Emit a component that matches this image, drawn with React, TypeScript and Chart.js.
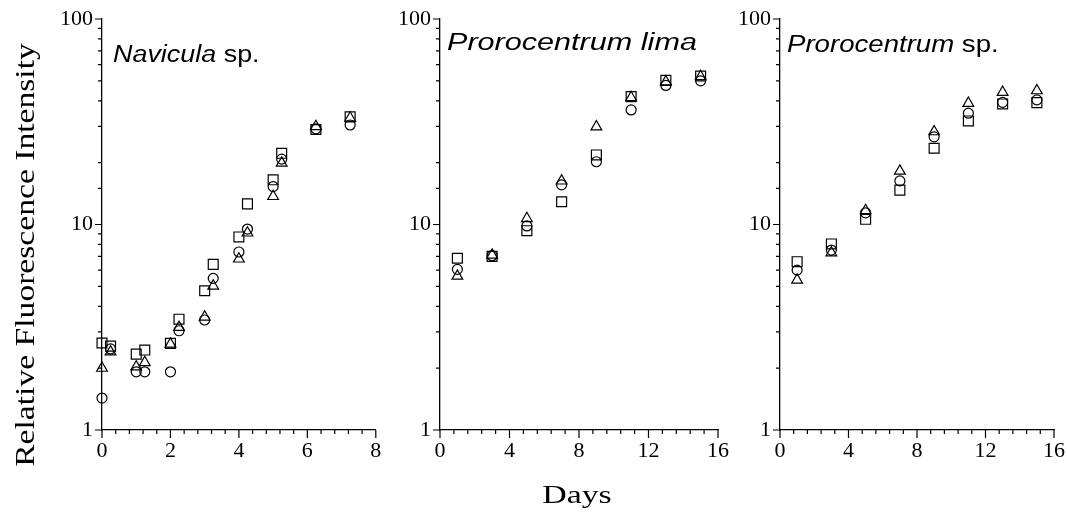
import React, { useEffect, useRef } from 'react';
import { Chart, registerables } from 'chart.js';

Chart.register(...registerables);

// ---------- data ----------
const yTickLabels = [1, 10, 100];

const navDays = [0, 0.25, 1, 1.25, 2, 2.25, 3, 3.25, 4, 4.25, 5, 5.25, 6.25, 7.25];
const navCircle = [1.43, 2.48, 1.92, 1.92, 1.92, 3.04, 3.43, 5.47, 7.35, 9.5, 15.3, 20.8, 29.2, 30.5];
const navSquare = [2.65, 2.56, 2.34, 2.45, 2.64, 3.46, 4.76, 6.4, 8.7, 12.6, 16.5, 22.2, 29.0, 33.4];
const navTriangle = [2.0, 2.4, 2.03, 2.13, 2.62, 3.16, 3.55, 5.02, 6.8, 9.1, 13.7, 19.9, 30.0, 33.0];

const limaDays = [1, 3, 5, 7, 9, 11, 13, 15];
const limaCircle = [6.05, 7.05, 9.84, 15.6, 20.2, 36.1, 47.5, 50.0];
const limaSquare = [6.85, 7.0, 9.33, 12.9, 21.8, 41.9, 50.3, 52.8];
const limaTriangle = [5.61, 7.1, 10.7, 16.3, 29.9, 41.5, 49.5, 52.5];

const spDays = [1, 3, 5, 7, 9, 11, 13, 15];
const spCircle = [6.0, 7.51, 11.4, 16.3, 26.7, 34.8, 39.3, 40.4];
const spSquare = [6.59, 8.04, 10.6, 14.7, 23.5, 31.9, 38.6, 39.2];
const spTriangle = [5.37, 7.29, 11.7, 18.2, 28.3, 38.9, 44.0, 44.8];

const yAxisTitle = 'Relative Fluorescence Intensity';
const xAxisTitle = 'Days';

// ---------- drawing helpers ----------
const SERIF = '"Liberation Serif", "DejaVu Serif", serif';
const SANS = '"Liberation Sans", Arial, sans-serif';

const nearMultiple = (v: number, m: number) => Math.abs(v / m - Math.round(v / m)) < 1e-6;

const panelDeco = {
  id: 'panelDeco',
  afterDraw(chart: any, _args: any, opts: any) {
    const { ctx, chartArea: ca } = chart;
    const xs = chart.scales.x;
    const ys = chart.scales.y;
    ctx.save();
    ctx.strokeStyle = '#000';
    ctx.lineWidth = 1.2;
    ctx.beginPath();
    for (const t of xs.ticks) {
      const px = xs.getPixelForValue(t.value);
      const len = nearMultiple(t.value, opts.xMajor) ? 8 : 4;
      ctx.moveTo(px, ca.bottom);
      ctx.lineTo(px, ca.bottom + len);
    }
    for (const t of ys.ticks) {
      const py = ys.getPixelForValue(t.value);
      const major = yTickLabels.some((v) => Math.abs(v - t.value) < 1e-9);
      const len = major ? 7 : 4;
      ctx.moveTo(ca.left - len, py);
      ctx.lineTo(ca.left, py);
    }
    ctx.stroke();

    // panel title (mixed italic / upright)
    ctx.fillStyle = '#000';
    ctx.textBaseline = 'alphabetic';
    ctx.textAlign = 'left';
    ctx.save();
    ctx.translate(ca.left + opts.titleDx, opts.titleY);
    ctx.scale(opts.titleScale || 1.2, 1);
    ctx.font = `italic 23px ${SANS}`;
    ctx.fillText(opts.italic, 0, 0);
    const w = ctx.measureText(opts.italic).width;
    if (opts.normal) {
      ctx.font = `23px ${SANS}`;
      ctx.fillText(opts.normal, w, 0);
    }
    ctx.restore();

    if (opts.yTitle) {
      ctx.save();
      ctx.translate(opts.yTitleX, opts.yTitleY);
      ctx.rotate(-Math.PI / 2);
      ctx.scale(1.2, 1);
      ctx.font = `28px ${SERIF}`;
      ctx.textAlign = 'center';
      ctx.textBaseline = 'middle';
      ctx.fillText(opts.yTitle, 0, 0);
      ctx.restore();
    }
    if (opts.xTitle) {
      ctx.save();
      ctx.translate(opts.xTitleX, opts.xTitleY);
      ctx.scale(1.3, 1);
      ctx.font = `26px ${SERIF}`;
      ctx.textAlign = 'center';
      ctx.textBaseline = 'alphabetic';
      ctx.fillText(opts.xTitle, 0, 0);
      ctx.restore();
    }
    ctx.restore();
  },
};

type Panel = {
  left: number;
  width: number;
  yAxisWidth: number;
  days: number[];
  circle: number[];
  square: number[];
  triangle: number[];
  xMax: number;
  xStep: number;
  xMajor: number;
  deco: any;
};

const CANVAS_H = 516;
const AREA_TOP = 19;
const AREA_BOTTOM = 430;

function series(days: number[], vals: number[]) {
  return days.map((d, i) => ({ x: d, y: vals[i] }));
}

function buildChart(canvas: HTMLCanvasElement, p: Panel) {
  const common = {
    showLine: false,
    borderColor: '#000',
    backgroundColor: 'rgba(0,0,0,0)',
    borderWidth: 1.2,
    clip: false as any,
  };
  return new Chart(canvas, {
    type: 'scatter',
    data: {
      datasets: [
        { ...common, label: 'circle', data: series(p.days, p.circle), pointStyle: 'circle', pointRadius: 5 },
        { ...common, label: 'square', data: series(p.days, p.square), pointStyle: 'rect', pointRadius: 7 },
        { ...common, label: 'triangle', data: series(p.days, p.triangle), pointStyle: 'triangle', pointRadius: 6.2 },
      ],
    },
    options: {
      animation: false,
      responsive: false,
      devicePixelRatio: 1,
      layout: { padding: { top: AREA_TOP, bottom: 0, left: 0, right: 0 } },
      plugins: {
        legend: { display: false },
        tooltip: { enabled: false },
        panelDeco: { xMajor: p.xMajor, ...p.deco },
      } as any,
      scales: {
        x: {
          type: 'linear',
          min: 0,
          max: p.xMax,
          grid: { display: false, drawTicks: true, tickLength: 8 },
          border: { display: true, color: '#000', width: 1.3 },
          ticks: {
            stepSize: p.xStep,
            autoSkip: false,
            maxRotation: 0,
            padding: 0,
            color: '#000',
            font: { family: SERIF, size: 22 },
            callback: (v: any) => (nearMultiple(Number(v), p.xMajor) ? String(Math.round(Number(v))) : ''),
          },
          afterFit: (s: any) => {
            s.height = CANVAS_H - AREA_BOTTOM;
          },
        },
        y: {
          type: 'logarithmic',
          min: 1,
          max: 100,
          grid: { display: false, drawTicks: true, tickLength: 7 },
          border: { display: true, color: '#000', width: 1.3 },
          ticks: {
            autoSkip: false,
            padding: 2,
            color: '#000',
            font: { family: SERIF, size: 22 },
            callback: (v: any) =>
              yTickLabels.some((t) => Math.abs(t - Number(v)) < 1e-9) ? String(Number(v)) : '',
          },
          afterFit: (s: any) => {
            s.width = p.yAxisWidth;
          },
        },
      },
    },
    plugins: [panelDeco as any],
  });
}

const panels: Panel[] = [
  {
    left: 0,
    width: 384,
    yAxisWidth: 102,
    days: navDays,
    circle: navCircle,
    square: navSquare,
    triangle: navTriangle,
    xMax: 8,
    xStep: 0.4,
    xMajor: 2,
    deco: { italic: 'Navicula', normal: ' sp.', titleDx: 11, titleY: 62, titleScale: 1.17, yTitle: yAxisTitle, yTitleX: 27, yTitleY: 255 },
  },
  {
    left: 370,
    width: 359,
    yAxisWidth: 70,
    days: limaDays,
    circle: limaCircle,
    square: limaSquare,
    triangle: limaTriangle,
    xMax: 16,
    xStep: 0.8,
    xMajor: 4,
    deco: { italic: 'Prorocentrum lima', normal: '', titleDx: 7, titleY: 50, titleScale: 1.33, xTitle: xAxisTitle, xTitleX: 577 - 370, xTitleY: 503 },
  },
  {
    left: 710,
    width: 355,
    yAxisWidth: 70,
    days: spDays,
    circle: spCircle,
    square: spSquare,
    triangle: spTriangle,
    xMax: 16,
    xStep: 0.8,
    xMajor: 4,
    deco: { italic: 'Prorocentrum', normal: ' sp.', titleDx: 7, titleY: 52, titleScale: 1.2 },
  },
];

function PanelCanvas({ p }: { p: Panel }) {
  const ref = useRef<HTMLCanvasElement | null>(null);
  useEffect(() => {
    if (!ref.current) return;
    const c = buildChart(ref.current, p);
    return () => c.destroy();
  }, [p]);
  return (
    <canvas
      ref={ref}
      width={p.width}
      height={CANVAS_H}
      style={{ position: 'absolute', left: p.left, top: 0, width: p.width, height: CANVAS_H }}
    />
  );
}

export default function App() {
  return (
    <div
      style={{
        position: 'fixed',
        left: 0,
        top: 0,
        width: 1067,
        height: 516,
        background: '#fff',
        overflow: 'hidden',
      }}
    >
      {panels.map((p, i) => (
        <PanelCanvas key={i} p={p} />
      ))}
    </div>
  );
}
